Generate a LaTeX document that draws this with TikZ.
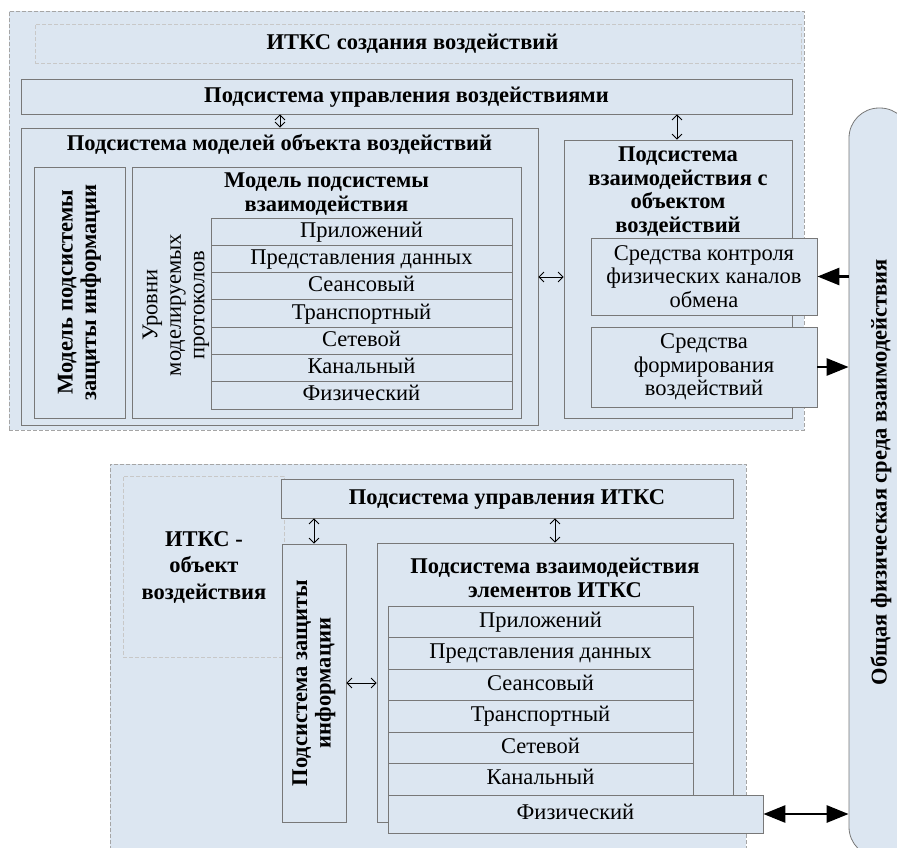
\documentclass[tikz,border=0pt]{standalone}
\usepackage{fontspec}
\setmainfont{Liberation Serif}
\usetikzlibrary{arrows.meta,positioning}
\definecolor{boxblue}{RGB}{220,230,241}
\definecolor{linegray}{RGB}{120,120,120}
\definecolor{dashgray}{RGB}{165,165,165}
\definecolor{lightdash}{RGB}{200,200,200}

\begin{document}
\begin{tikzpicture}[
            x=1pt, y=-1pt, % one unit = one pixel, y downwards
            font=\fontsize{22.5}{23.5}\selectfont,
            box/.style={draw=linegray, fill=boxblue, rectangle,
            inner sep=0pt, line width=0.8pt},
            frame/.style={draw=dashgray, fill=boxblue, rectangle,
            dash pattern=on 4pt off 2pt, line width=0.8pt, inner sep=0pt},
            ghost/.style={draw=lightdash, rectangle,
            dash pattern=on 4pt off 2pt, line width=0.7pt, inner sep=0pt},
            row/.style={box, minimum width=301pt, minimum height=27.3pt,
            text height=15pt, text depth=4pt},
            brow/.style={box, minimum width=305pt, minimum height=31.5pt,
            text height=15pt, text depth=4pt},
            ttl/.style={font=\fontsize{22.5}{23.5}\selectfont\bfseries,
            align=center, inner sep=0pt},
            txt/.style={align=center, inner sep=0pt},
            thin/.style={{Straight Barb[length=5pt,width=10pt]}-{Straight Barb[length=5pt,width=10pt]},
            line width=0.8pt},
            thick/.style={-{Triangle[length=22pt,width=17pt]}, line width=2.8pt}
            ]
            \useasboundingbox (0,0) rectangle (897,847);
            \clip (0,0) rectangle (897,847);

            % upper part
            \node[frame, minimum width=795pt, minimum height=419pt] (top) at (406.5,220.5) {};
            \node[ghost, minimum width=766pt, minimum height=39pt] (topttl) at (418,43.5) {};
            \node[ttl] (toptxt) at (412.5,44) {ИТКС создания воздействий};
            \node[box, minimum width=771pt, minimum height=35pt, text height=16pt, text depth=5pt] (ctrl) at (406.5,96.5)
            {\bfseries Подсистема управления воздействиями};

            \node[box, minimum width=517pt, minimum height=297pt] (mdls) at (279.5,276.5) {};
            \node[ttl] (mdlstxt) at (279.5,144) {Подсистема моделей объекта воздействий};
            \node[box, minimum width=91pt, minimum height=251pt] (mprot) at (79.5,292.5) {};
            \node[ttl, rotate=90] (mprottxt) at (mprot) {Модель подсистемы\\защиты информации};
            \node[box, minimum width=389pt, minimum height=251pt] (minter) at (326.5,292.5) {};
            \node[ttl] (mintertxt) at (326.5,194) {Модель подсистемы\\взаимодействия};
            \node[txt, rotate=90] (lvl) at (176,305) {Уровни\\моделируемых\\протоколов};

            \node[row] (r1) at (361.5,231.6) {Приложений};
            \node[row] (r2) at (361.5,258.9) {Представления данных};
            \node[row] (r3) at (361.5,286.2) {Сеансовый};
            \node[row] (r4) at (361.5,313.5) {Транспортный};
            \node[row] (r5) at (361.5,340.8) {Сетевой};
            \node[row] (r6) at (361.5,368.1) {Канальный};
            \node[row] (r7) at (361.5,395.4) {Физический};

            \node[box, minimum width=228pt, minimum height=278pt] (right) at (678,279) {};
            \node[ttl] (righttxt) at (678,191.5) {Подсистема\\взаимодействия с\\объектом\\воздействий};
            \node[box, txt, minimum width=226pt, minimum height=77pt] (sctrl) at (704,276.5)
            {Средства контроля\\физических каналов\\обмена};
            \node[box, txt, minimum width=226pt, minimum height=80pt] (sform) at (704,367)
            {Средства\\формирования\\воздействий};

            % shared medium
            \node[box, rounded corners=30pt, minimum width=61pt, minimum height=749pt] (env) at (879.5,482.5) {};
            \node[ttl, rotate=90] (envtxt) at (881,472) {Общая физическая среда взаимодействия};

            % lower part
            \node[frame, minimum width=636pt, minimum height=386pt] (bot) at (428,657) {};
            \node[ghost, minimum width=161pt, minimum height=181pt] (botlbl) at (203.5,566.5) {};
            \node[ttl] (botlbltxt) at (204,567) {ИТКС -\\[3pt]объект\\[3pt]воздействия};
            \node[box, minimum width=452pt, minimum height=39pt, text height=16pt, text depth=5pt] (bctrl) at (507,498.5)
            {\bfseries Подсистема управления ИТКС};
            \node[box, minimum width=64pt, minimum height=278pt] (bprot) at (314,683) {};
            \node[ttl, rotate=90] (bprottxt) at (bprot) {Подсистема защиты\\информации};
            \node[box, minimum width=356pt, minimum height=279pt] (binter) at (555,682.5) {};
            \node[ttl] (bintertxt) at (555,578) {Подсистема взаимодействия\\элементов ИТКС};

            \node[brow] (b1) at (540.5,621.75) {Приложений};
            \node[brow] (b2) at (540.5,653.25) {Представления данных};
            \node[brow] (b3) at (540.5,684.75) {Сеансовый};
            \node[brow] (b4) at (540.5,716.25) {Транспортный};
            \node[brow] (b5) at (540.5,747.75) {Сетевой};
            \node[brow] (b6) at (540.5,779.25) {Канальный};
            \node[box, minimum width=375pt, minimum height=38pt, text height=15pt, text depth=4pt] (bphys) at (575.5,814) {Физический};

            % connectors
            \coordinate (c1) at (280,0);
            \coordinate (c2) at (677,0);
            \coordinate (c3) at (0,277);
            \draw[thin] (ctrl.south -| c1) -- (mdls.north -| c1);
            \draw[thin] (ctrl.south -| c2) -- (right.north -| c2);
            \draw[thin] (mdls.east |- c3) -- (right.west |- c3);
            \draw[thick] (env.west |- sctrl.east) -- (sctrl.east);
            \draw[thick] (sform.east) -- (env.west |- sform.east);

            \draw[thin] (bctrl.south -| bprot.north) -- (bprot.north);
            \draw[thin] (bctrl.south -| binter.north) -- (binter.north);
            \draw[thin] (bprot.east) -- (bprot.east -| binter.west);
            \draw[thick, {Triangle[length=22pt,width=17pt]}-{Triangle[length=22pt,width=17pt]}]
            (bphys.east) -- (bphys.east -| env.west);
        \end{tikzpicture}
\end{document}
